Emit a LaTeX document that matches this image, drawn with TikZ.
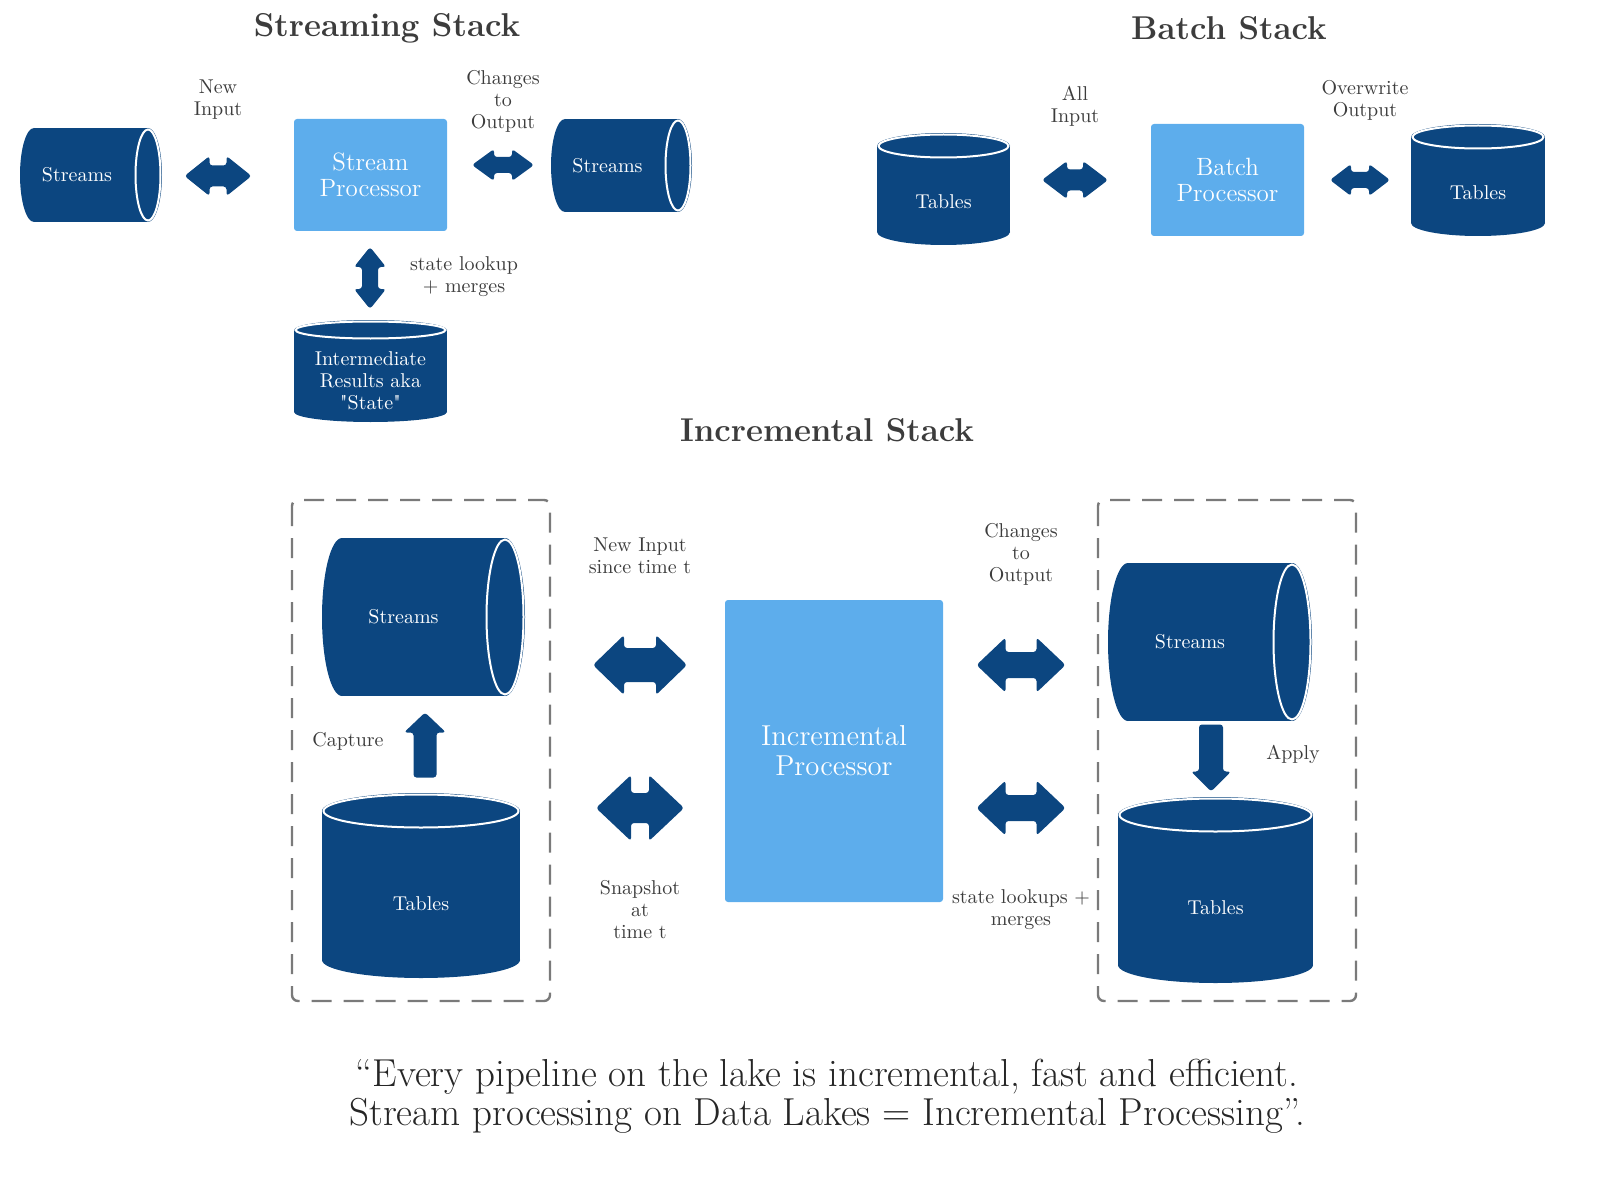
\documentclass[tikz,border=0pt]{standalone}
\usepackage{fontspec}
\usetikzlibrary{calc}
\definecolor{deepblue}{HTML}{0C4680}
\definecolor{skyblue}{HTML}{5DADEC}
\definecolor{txtgray}{HTML}{3C3C3C}
\definecolor{dashgray}{HTML}{7A7A7A}
\tikzset{
  % horizontal cylinder: width, height, cap radius, text
  pics/hcyl/.style n args={4}{code={
    \fill[deepblue] ({-#1/2+#3},0) ellipse[x radius=#3, y radius=#2/2];
    \fill[deepblue] ({-#1/2+#3},{-#2/2}) rectangle ({#1/2-#3},{#2/2});
    \fill[deepblue] ({#1/2-#3},0) ellipse[x radius=#3, y radius=#2/2];
    \draw[capline] ({#1/2-#3},0) ellipse[x radius=#3-1.5, y radius=#2/2-1.5];
    \node[intxt] (-t) at (-#3,0) {#4};
  }},
  % vertical cylinder: width, height, cap radius, text
  pics/vcyl/.style n args={4}{code={
    \fill[deepblue] (0,{#2/2-#3}) ellipse[x radius=#1/2, y radius=#3];
    \fill[deepblue] ({-#1/2},{-#2/2+#3}) rectangle ({#1/2},{#2/2-#3});
    \fill[deepblue] (0,{-#2/2+#3}) ellipse[x radius=#1/2, y radius=#3];
    \draw[capline] (0,{-#2/2+#3}) ellipse[x radius=#1/2-1.5, y radius=#3-1.5];
    \node[intxt] (-t) at (0,#3) {#4};
  }},
  % fat double arrow: length, width, head length, shaft width
  pics/dblarr/.style n args={4}{code={
    \fill[deepblue,rounded corners=1.5pt] ({-#1/2},0) -- ({-#1/2+#3},{#2/2}) -- ({-#1/2+#3},{#4/2})
      -- ({#1/2-#3},{#4/2}) -- ({#1/2-#3},{#2/2}) -- ({#1/2},0) -- ({#1/2-#3},{-#2/2})
      -- ({#1/2-#3},{-#4/2}) -- ({-#1/2+#3},{-#4/2}) -- ({-#1/2+#3},{-#2/2}) -- cycle;
  }},
  % fat single arrow: length, width, head length, shaft width
  pics/sglarr/.style n args={4}{code={
    \fill[deepblue,rounded corners=1.5pt] ({#1/2},0) -- ({#1/2-#3},{#2/2}) -- ({#1/2-#3},{#4/2})
      -- ({-#1/2},{#4/2}) -- ({-#1/2},{-#4/2}) -- ({#1/2-#3},{-#4/2}) -- ({#1/2-#3},{-#2/2}) -- cycle;
  }},
}
\begin{document}
\begin{tikzpicture}[x=0.5pt,y=-0.5pt,
  capline/.style={draw=white,line width=1pt},
  intxt/.style={text=white,align=center,font=\fontsize{10}{11}\selectfont,inner sep=0pt},
  lbl/.style={text=txtgray,align=center,font=\fontsize{10}{11}\selectfont,inner sep=0pt},
  proc/.style={fill=skyblue,rounded corners=1.5pt,text=white,align=center,inner sep=0pt},
  ttl/.style={text=txtgray,font=\bfseries\fontsize{16.5}{19}\selectfont},
  box/.style={draw=dashgray,line width=1.2pt,dash pattern=on 10pt off 6pt,rounded corners=3pt}]
  \useasboundingbox (0,0) rectangle (1600,1182);
  % Streaming Stack
  \node[ttl] (t1) at (387,28) {Streaming Stack};
  \pic (s1) at (91,175) {hcyl={142}{94}{14}{Streams}};
  \node[proc,minimum width=76.5pt,minimum height=56pt,font=\fontsize{12.5}{13}\selectfont] (sp) at (370.5,175) {Stream\\Processor};
  \pic (s2) at (621.5,165.5) {hcyl={141}{93}{14}{Streams}};
  \pic (st) at (370.5,371) {vcyl={153}{102}{10}{Intermediate\\Results aka\\\textquotedbl State\textquotedbl}};
  \pic at (218,176) {dblarr={67}{40}{25}{21}};
  \pic at (503,165) {dblarr={62}{32}{22}{16}};
  \pic[rotate=90] at (370,278) {dblarr={62}{32}{20}{16}};
  \node[lbl] (l1) at (218,100) {New\\Input};
  \node[lbl] (l2) at (503,101) {Changes\\to\\Output};
  \node[lbl] (l3) at (464,277) {state lookup\\+ merges};
  % Batch Stack
  \node[ttl] (t2) at (1229,28) {Batch Stack};
  \pic (bt1) at (943.5,189) {vcyl={133}{112}{13}{Tables}};
  \node[proc,minimum width=76.5pt,minimum height=56pt,font=\fontsize{12.5}{13}\selectfont] (bp) at (1227.5,180) {Batch\\Processor};
  \pic (bt2) at (1478,180) {vcyl={134}{112}{13}{Tables}};
  \pic at (1075,180) {dblarr={66}{38}{25}{21}};
  \pic at (1360,180) {dblarr={60}{32}{21}{16}};
  \node[lbl] (l4) at (1075,106) {All\\Input};
  \node[lbl] (l5) at (1365,100) {Overwrite\\Output};
  % Incremental Stack
  \node[ttl] (t3) at (827,430) {Incremental Stack};
  \draw[box] (292,500) rectangle (550,1001);
  \draw[box] (1098,500) rectangle (1356,1001);
  \pic (is1) at (423.5,617) {hcyl={203}{158}{20}{Streams}};
  \pic (it1) at (421,885.5) {vcyl={198}{185}{18}{Tables}};
  \pic[rotate=90] at (425,745) {sglarr={65}{42}{20}{23}};
  \node[lbl] (l6) at (348,741) {Capture};
  \node[proc,minimum width=109pt,minimum height=151pt,font=\fontsize{14.4}{15}\selectfont] (ip) at (834,751) {Incremental\\Processor};
  \pic at (640,665) {dblarr={94}{60}{31}{34}};
  \pic at (640,808) {dblarr={88}{66}{35}{30}};
  \node[lbl] (l7) at (640,556) {New Input\\since time t};
  \node[lbl] (l8) at (640,910) {Snapshot\\at\\time t};
  \pic at (1021,665) {dblarr={89}{55}{29}{26}};
  \pic at (1021,808) {dblarr={89}{55}{29}{26}};
  \node[lbl] (l9) at (1021,554) {Changes\\to\\Output};
  \node[lbl] (l10) at (1021,910) {state lookups +\\merges};
  \pic (os1) at (1210,642) {hcyl={204}{158}{20}{Streams}};
  \pic (ot1) at (1215.5,890) {vcyl={195}{186}{18}{Tables}};
  \pic[rotate=-90] at (1211,758) {sglarr={67}{40}{20}{24}};
  \node[lbl] (l11) at (1293,754) {Apply};
  % quote
  \node[text=black!85,align=center,font=\fontsize{19.5}{19.5}\selectfont] (q) at (827,1096)
    {“Every pipeline on the lake is incremental, fast and efficient.\\Stream processing on Data Lakes = Incremental Processing”.};
\end{tikzpicture}
\end{document}
